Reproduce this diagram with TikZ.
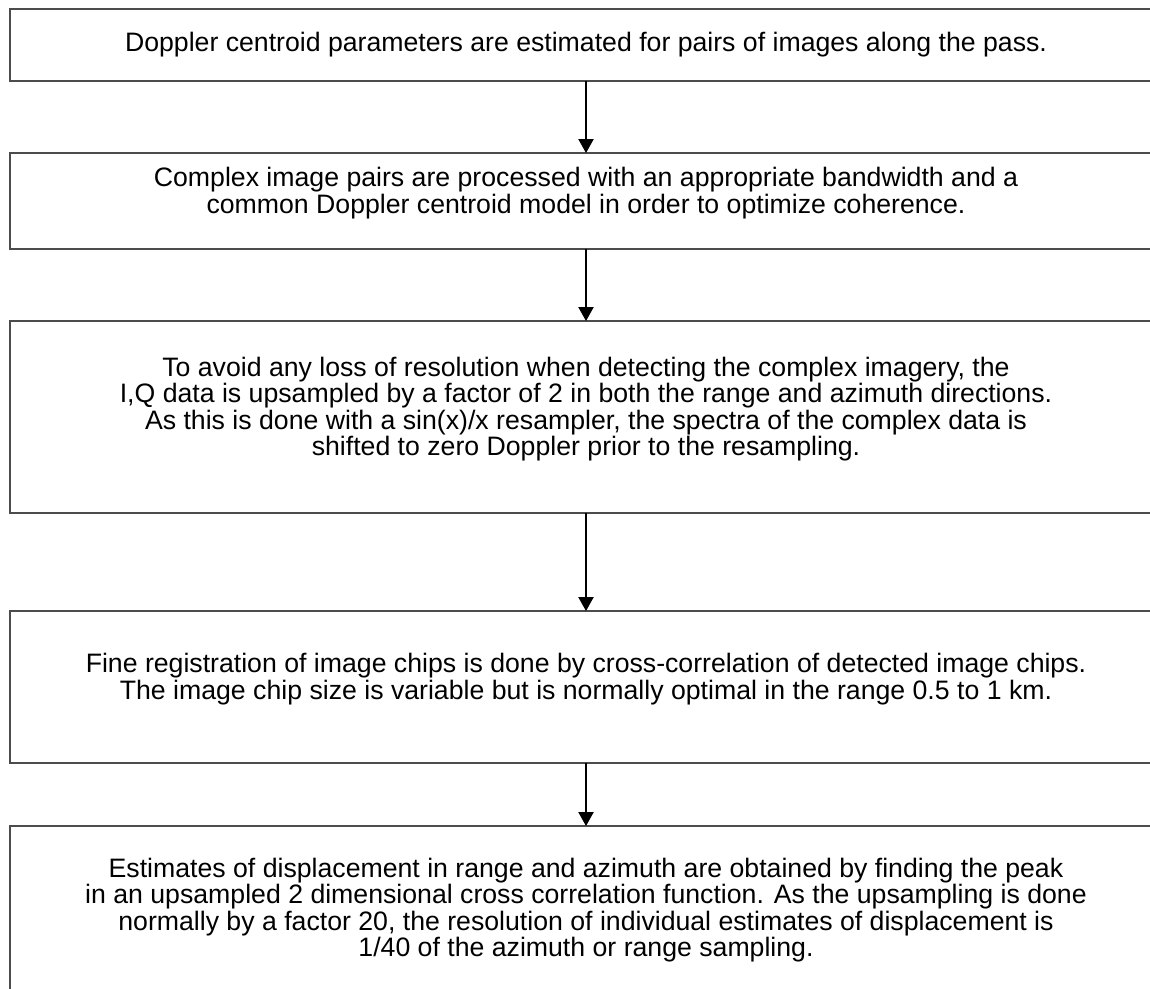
\documentclass[tikz,border=0pt]{standalone}
\usepackage{fontspec}
\setmainfont{Liberation Sans}
\usetikzlibrary{arrows.meta, positioning, calc}

\begin{document}
\begin{tikzpicture}[
    x=0.75pt, y=-0.75pt,
    >={Triangle[width=11.5pt, length=10.5pt]},
    % Styles for the processing chain
    stepbox/.style={rectangle, draw=black!70, line width=1.1pt, minimum width=864pt,
        align=center, anchor=north, inner sep=0pt, outer sep=0pt,
        font=\fontsize{20}{18}\selectfont},
    lifted/.style={text depth=16pt},
    flow/.style={->, draw=black, line width=0.8pt}
]
    \useasboundingbox (0,0) rectangle (1150,989);
    \clip (0,0) rectangle (1150,989);

    % --- Processing steps, top to bottom ---
    \node[stepbox, minimum height=54pt] (doppler) at (586,9)
        {Doppler centroid parameters are estimated for pairs of images along the pass.};
    \node[stepbox, lifted, minimum height=72pt] (pairs) at ($(doppler.south) + (0,72)$)
        {Complex image pairs are processed with an appropriate bandwidth and a\\
         common Doppler centroid model in order to optimize coherence.};
    \node[stepbox, lifted, minimum height=144pt] (upsample) at ($(pairs.south) + (0,72)$)
        {To avoid any loss of resolution when detecting the complex imagery, the\\
         I,Q data is upsampled by a factor of 2 in both the range and azimuth directions.\\
         As this is done with a sin(x)/x resampler, the spectra of the complex data is\\
         shifted to zero Doppler prior to the resampling.};
    \node[stepbox, lifted, minimum height=114pt] (chips) at ($(upsample.south) + (0,98)$)
        {Fine registration of image chips is done by cross-correlation of detected image chips.\\
         The image chip size is variable but is normally optimal in the range 0.5 to 1 km.};
    \node[stepbox, lifted, minimum height=138pt] (estimates) at ($(chips.south) + (0,63)$)
        {Estimates of displacement in range and azimuth are obtained by finding the peak\\
         in an upsampled 2 dimensional cross correlation function. As the upsampling is done\\
         normally by a factor 20, the resolution of individual estimates of displacement is\\
         1/40 of the azimuth or range sampling.};

    % --- Flow between the steps ---
    \draw[flow] (doppler) -- (pairs);
    \draw[flow] (pairs) -- (upsample);
    \draw[flow] (upsample) -- (chips);
    \draw[flow] (chips) -- (estimates);

\end{tikzpicture}
\end{document}
